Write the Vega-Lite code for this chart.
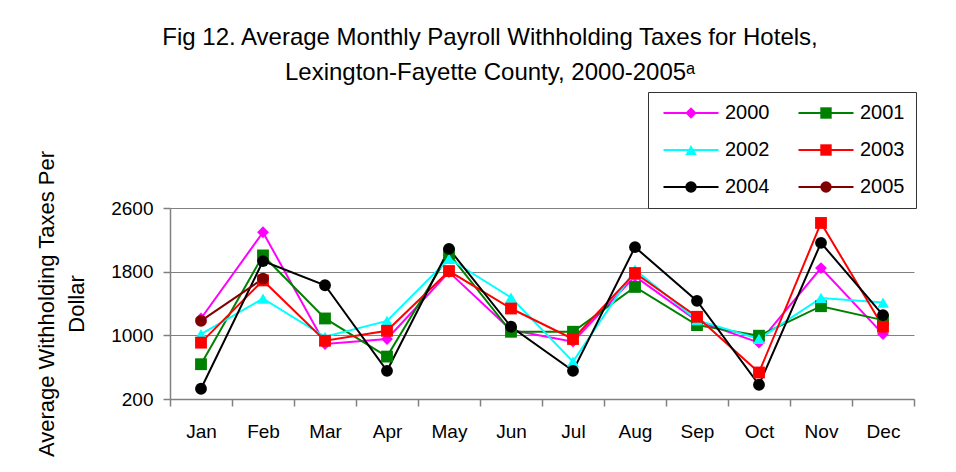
{
  "$schema": "https://vega.github.io/schema/vega-lite/v6.json",
  "width": 744,
  "height": 191,
  "autosize": {"type": "none"},
  "padding": {"left": 170, "top": 208, "right": 42, "bottom": 73},
  "background": "white",
  "config": {
    "font": "Liberation Sans",
    "view": {"stroke": null}
  },
  "title": {
    "text": ["Fig 12. Average Monthly Payroll Withholding Taxes for Hotels,", "Lexington-Fayette County, 2000-2005ᵃ"],
    "fontSize": 24,
    "font": "Liberation Sans",
    "fontWeight": "normal",
    "color": "black",
    "lineHeight": 35,
    "anchor": "middle",
    "frame": "group",
    "dx": -52,
    "offset": 7
  },
  "data": {
    "values": [
      {"month": "Jan", "year": "2000", "value": 1212},
      {"month": "Feb", "year": "2000", "value": 2295},
      {"month": "Mar", "year": "2000", "value": 891},
      {"month": "Apr", "year": "2000", "value": 954},
      {"month": "May", "year": "2000", "value": 1795},
      {"month": "Jun", "year": "2000", "value": 1066},
      {"month": "Jul", "year": "2000", "value": 920},
      {"month": "Aug", "year": "2000", "value": 1741},
      {"month": "Sep", "year": "2000", "value": 1182},
      {"month": "Oct", "year": "2000", "value": 908},
      {"month": "Nov", "year": "2000", "value": 1845},
      {"month": "Dec", "year": "2000", "value": 1016},
      {"month": "Jan", "year": "2001", "value": 637},
      {"month": "Feb", "year": "2001", "value": 2004},
      {"month": "Mar", "year": "2001", "value": 1212},
      {"month": "Apr", "year": "2001", "value": 733},
      {"month": "May", "year": "2001", "value": 2025},
      {"month": "Jun", "year": "2001", "value": 1045},
      {"month": "Jul", "year": "2001", "value": 1045},
      {"month": "Aug", "year": "2001", "value": 1608},
      {"month": "Sep", "year": "2001", "value": 1129},
      {"month": "Oct", "year": "2001", "value": 995},
      {"month": "Nov", "year": "2001", "value": 1366},
      {"month": "Dec", "year": "2001", "value": 1191},
      {"month": "Jan", "year": "2002", "value": 1016},
      {"month": "Feb", "year": "2002", "value": 1462},
      {"month": "Mar", "year": "2002", "value": 982},
      {"month": "Apr", "year": "2002", "value": 1182},
      {"month": "May", "year": "2002", "value": 1962},
      {"month": "Jun", "year": "2002", "value": 1475},
      {"month": "Jul", "year": "2002", "value": 670},
      {"month": "Aug", "year": "2002", "value": 1825},
      {"month": "Sep", "year": "2002", "value": 1191},
      {"month": "Oct", "year": "2002", "value": 954},
      {"month": "Nov", "year": "2002", "value": 1470},
      {"month": "Dec", "year": "2002", "value": 1412},
      {"month": "Jan", "year": "2003", "value": 908},
      {"month": "Feb", "year": "2003", "value": 1690},
      {"month": "Mar", "year": "2003", "value": 932},
      {"month": "Apr", "year": "2003", "value": 1057},
      {"month": "May", "year": "2003", "value": 1808},
      {"month": "Jun", "year": "2003", "value": 1337},
      {"month": "Jul", "year": "2003", "value": 954},
      {"month": "Aug", "year": "2003", "value": 1783},
      {"month": "Sep", "year": "2003", "value": 1233},
      {"month": "Oct", "year": "2003", "value": 533},
      {"month": "Nov", "year": "2003", "value": 2412},
      {"month": "Dec", "year": "2003", "value": 1108},
      {"month": "Jan", "year": "2004", "value": 329},
      {"month": "Feb", "year": "2004", "value": 1933},
      {"month": "Mar", "year": "2004", "value": 1629},
      {"month": "Apr", "year": "2004", "value": 554},
      {"month": "May", "year": "2004", "value": 2087},
      {"month": "Jun", "year": "2004", "value": 1108},
      {"month": "Jul", "year": "2004", "value": 554},
      {"month": "Aug", "year": "2004", "value": 2108},
      {"month": "Sep", "year": "2004", "value": 1433},
      {"month": "Oct", "year": "2004", "value": 379},
      {"month": "Nov", "year": "2004", "value": 2162},
      {"month": "Dec", "year": "2004", "value": 1254},
      {"month": "Jan", "year": "2005", "value": 1182},
      {"month": "Feb", "year": "2005", "value": 1712}
    ]
  },
  "encoding": {
    "x": {
      "field": "month",
      "type": "ordinal",
      "sort": ["Jan", "Feb", "Mar", "Apr", "May", "Jun", "Jul", "Aug", "Sep", "Oct", "Nov", "Dec"],
      "scale": {"type": "band", "paddingInner": 0, "paddingOuter": 0},
      "axis": {
        "title": null,
        "labelAngle": 0,
        "labelFont": "Liberation Sans",
        "labelFontSize": 19,
        "labelColor": "black",
        "labelPadding": 16,
        "tickBand": "extent",
        "tickSize": 7,
        "tickColor": "#808080",
        "tickWidth": 1.5,
        "domainColor": "#808080",
        "domainWidth": 1.5,
        "grid": false
      }
    },
    "y": {
      "field": "value",
      "type": "quantitative",
      "scale": {"domain": [200, 2600], "nice": false, "zero": false},
      "axis": {
        "values": [200, 1000, 1800, 2600],
        "format": "d",
        "title": ["Average Withholding Taxes Per", "Dollar"],
        "titleFont": "Liberation Sans",
        "titleFontSize": 22,
        "titleFontWeight": "normal",
        "titleColor": "black",
        "titleLineHeight": 30,
        "titlePadding": 22,
        "labelFont": "Liberation Sans",
        "labelFontSize": 19,
        "labelColor": "black",
        "labelPadding": 10,
        "tickSize": 7,
        "tickColor": "#808080",
        "tickWidth": 1.5,
        "domainColor": "#808080",
        "domainWidth": 1.5,
        "grid": true,
        "gridColor": "#808080",
        "gridWidth": 1
      }
    }
  },
  "layer": [
    {
      "mark": {"type": "line", "strokeWidth": 2},
      "encoding": {
        "stroke": {
          "field": "year",
          "type": "nominal",
          "scale": {
            "domain": ["2000", "2001", "2002", "2003", "2004", "2005"],
            "range": ["#FF00FF", "#008000", "#00FFFF", "#FF0000", "#000000", "#800000"]
          },
          "legend": {
            "orient": "none",
            "legendX": 478,
            "legendY": -116,
            "direction": "horizontal",
            "columns": 2,
            "title": null,
            "labelFont": "Liberation Sans",
            "labelFontSize": 20,
            "labelColor": "black",
            "symbolType": "M-5,0H5",
            "symbolSize": 121,
            "symbolStrokeWidth": 2,
            "symbolOffset": 22,
            "labelOffset": 24,
            "columnPadding": 24,
            "rowPadding": 17,
            "padding": 11,
            "strokeColor": "#333333",
            "fillColor": "white",
            "zindex": 1
          }
        }
      }
    },
    {
      "mark": {"type": "point", "filled": true, "opacity": 1, "size": 140},
      "encoding": {
        "fill": {
          "field": "year",
          "type": "nominal",
          "scale": {
            "range": ["#FF00FF", "#008000", "#00FFFF", "#FF0000", "#000000", "#800000"]
          },
          "legend": {
            "orient": "none",
            "legendX": 478,
            "legendY": -116,
            "direction": "horizontal",
            "columns": 2,
            "title": null,
            "labelFont": "Liberation Sans",
            "labelFontSize": 20,
            "labelOpacity": 0,
            "symbolSize": 130,
            "symbolStrokeWidth": 2,
            "symbolOpacity": 1,
            "symbolOffset": 22,
            "labelOffset": 24,
            "columnPadding": 24,
            "rowPadding": 17,
            "padding": 11,
            "strokeColor": "transparent",
            "fillColor": "transparent",
            "zindex": 2
          }
        },
        "shape": {
          "field": "year",
          "type": "nominal",
          "scale": {
            "range": ["diamond", "square", "triangle-up", "square", "circle", "circle"]
          },
          "legend": {
            "orient": "none",
            "legendX": 478,
            "legendY": -116,
            "direction": "horizontal",
            "columns": 2,
            "title": null,
            "labelFont": "Liberation Sans",
            "labelFontSize": 20,
            "labelOpacity": 0,
            "symbolSize": 130,
            "symbolStrokeWidth": 2,
            "symbolOpacity": 1,
            "symbolOffset": 22,
            "labelOffset": 24,
            "columnPadding": 24,
            "rowPadding": 17,
            "padding": 11,
            "strokeColor": "transparent",
            "fillColor": "transparent",
            "zindex": 2
          }
        }
      }
    }
  ]
}
